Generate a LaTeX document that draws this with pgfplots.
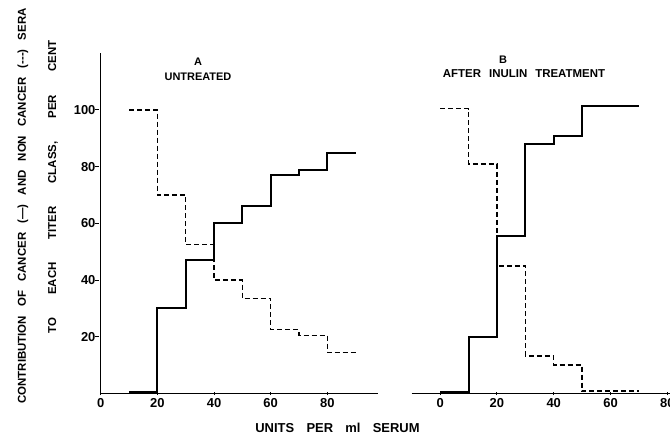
\documentclass[border=0pt]{standalone}
\usepackage{fontspec}
\setmainfont{Liberation Sans}
\usepackage{pgfplots}
\pgfplotsset{compat=1.18}
\begin{document}
\begin{tikzpicture}[x=1bp,y=1bp]
\pgfplotsset{
  panel/.style={
    scale only axis,
    ymin=0, ymax=120, height=340.2bp,
    major tick length=3.5bp,
    tick style={line width=1bp, black},
    ticklabel style={font=\fontsize{13}{13}\selectfont\bfseries},
    /pgf/number format/assume math mode=true,
    clip=false,
  },
  noarrows/.style={
    every outer x axis line/.append style={-, line width=1.2bp},
    every outer y axis line/.append style={-, line width=1.2bp},
    every inner x axis line/.append style={-, line width=1.2bp},
    every inner y axis line/.append style={-, line width=1.2bp},
    axis line style={-, line width=1.2bp},
  },
  solidline/.style={const plot, black, line width=2bp},
  dashline/.style={const plot, black, line width=1.5bp, dash pattern=on 5bp off 3bp},
}
% Panel A
\begin{axis}[panel, at={(100.7bp,45.5bp)}, anchor=south west,
  width=277.6bp, xmin=0, xmax=98,
  axis x line=bottom, axis y line=left, noarrows,
  xtick={0,20,40,60,80}, ytick={20,40,60,80,100},
  ytick style={xshift=-3.5bp},
]
\addplot[solidline] coordinates {
  (10,0.7) (20,30) (30,47) (40,60) (50,66) (60,77) (70,79) (80,85) (90,85)
};
\addplot[dashline] coordinates {
  (10,100) (20,70) (30,52.5) (40,40) (50,33.5) (60,22.5) (70,20.5) (80,14.5) (90,14.5)
};
\end{axis}
% Panel B
\begin{axis}[panel, at={(411.7bp,45.5bp)}, anchor=south west,
  width=261.3bp, xmin=-10, xmax=82,
  axis x line=bottom, axis y line=none, noarrows,
  xtick={0,20,40,60,80},
]
\addplot[solidline] coordinates {
  (0,0.7) (10,20) (20,55.6) (30,88) (40,91) (50,101.3) (70,101.3)
};
\addplot[dashline] coordinates {
  (0,100.5) (10,81) (20,45) (30,13.3) (40,10) (50,0.8) (70,0.8)
};
\end{axis}
% Titles
\node[font=\fontsize{11}{11}\selectfont\bfseries] at (198,377) {A};
\node[font=\fontsize{11}{11}\selectfont\bfseries] at (198,362) {UNTREATED};
\node[font=\fontsize{11}{11}\selectfont\bfseries] at (503,379) {B};
\node[font=\fontsize{11.5}{11.5}\selectfont\bfseries] at (524,365) {AFTER\hspace{0.7em}INULIN\hspace{0.7em}TREATMENT};
% Y label
\node[rotate=90, font=\fontsize{11.5}{11.5}\selectfont\bfseries] at (23,233)
  {\spaceskip=0.8em CONTRIBUTION OF CANCER (—) AND NON CANCER (-{}-{}-) SERA};
\node[rotate=90, font=\fontsize{11.5}{11.5}\selectfont\bfseries] at (53,252)
  {\spaceskip=2em TO EACH TITER CLASS, PER CENT};
% X label
\node[font=\fontsize{13}{13}\selectfont\bfseries] at (337.5,11)
  {\spaceskip=0.95em UNITS PER ml SERUM};
\pgfresetboundingbox
\useasboundingbox (0,0) rectangle (670,439);
\end{tikzpicture}
\end{document}
